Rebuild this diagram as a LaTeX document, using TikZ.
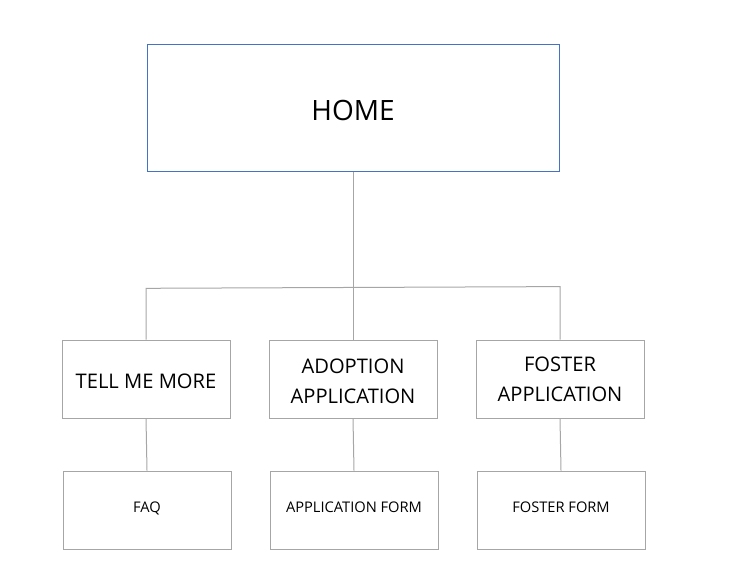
\documentclass[tikz,border=0pt]{standalone}
\usepackage{fontspec}
\setmainfont{Open Sans}
\definecolor{boxgray}{HTML}{A6A6A6}
\definecolor{linegray}{HTML}{A6A6A6}
\definecolor{homeblue}{HTML}{4472C4}
\begin{document}
\begin{tikzpicture}[x=0.75pt,y=-0.75pt,
  pagebox/.style={draw=boxgray,line width=0.75pt,minimum width=168*0.75pt,minimum height=78*0.75pt,inner sep=0pt,align=center,text=black},
  midtext/.style={font=\fontsize{15.1}{22.5}\selectfont},
  smalltext/.style={font=\fontsize{11}{13}\selectfont,text height=8pt,text depth=5pt},
  link/.style={draw=linegray,line width=0.75pt}]
\useasboundingbox (0,0) rectangle (753,587);
\node[draw=homeblue,line width=0.75pt,minimum width=412*0.75pt,minimum height=127*0.75pt,inner sep=0pt,font=\fontsize{21}{25}\selectfont,text height=18.8pt,text depth=0pt] (home) at (353,107.5) {HOME};
\node[pagebox,midtext,text height=14pt,text depth=0pt] (tell) at (146,379) {TELL ME MORE};
\node[pagebox,midtext] (adopt) at (353,379) {\rule{0pt}{14.5pt}ADOPTION\\APPLICATION};
\node[pagebox,midtext] (foster) at (560,379) {FOSTER\\APPLICATION};
\node[pagebox,smalltext] (faq) at (147,510) {FAQ};
\node[pagebox,smalltext] (appform) at (354,510) {APPLICATION FORM};
\node[pagebox,smalltext] (fosterform) at (561,510) {FOSTER FORM};
\coordinate (L) at (146,288.3);
\coordinate (R) at (560,286.6);
\draw[link] (home.south) -- (adopt.north);
\draw[link] (tell.north) -- (L) -- (R) -- (foster.north);
\draw[link] (tell.south) -- (faq.north);
\draw[link] (adopt.south) -- (appform.north);
\draw[link] (foster.south) -- (fosterform.north);
\end{tikzpicture}
\end{document}
